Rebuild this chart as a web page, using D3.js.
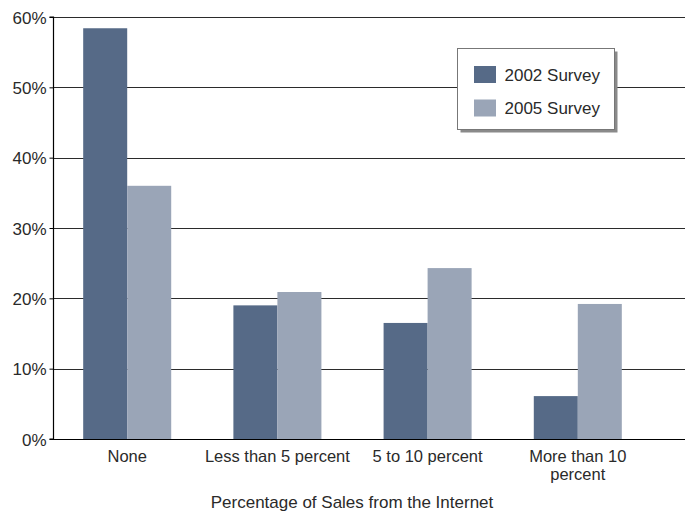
<!DOCTYPE html>
<html>
<head>
<meta charset="utf-8">
<script src="https://cdn.jsdelivr.net/npm/d3@7/dist/d3.min.js"></script>
<style>
  html, body { margin: 0; padding: 0; background: #fff; }
  svg { display: block; }
  text { font-family: "Liberation Sans", Arial, Helvetica, sans-serif; fill: #2a2a2a; }
</style>
</head>
<body>
<svg id="chart" width="685" height="513"></svg>
<script>
// Share of firms by percentage of sales coming from the Internet
const categories = ["None", "Less than 5 percent", "5 to 10 percent", "More than 10 percent"];
const categoryLines = [["None"], ["Less than 5 percent"], ["5 to 10 percent"], ["More than 10", "percent"]];
const seriesNames = ["2002 Survey", "2005 Survey"];
const survey2002 = [58.4, 19.0, 16.5, 6.1];
const survey2005 = [36.0, 20.9, 24.3, 19.2];
const yTicks = [0, 10, 20, 30, 40, 50, 60];

const colors = ["#566a87", "#9aa5b7"];
const svg = d3.select("#chart");

const W = 685;
const plotLeft = 53;
const y = d3.scaleLinear().domain([0, 60]).range([439, 17]);

const pad = 0.414;
const x0 = d3.scaleBand().domain(categories).range([52.1, 652.9]).paddingInner(pad).paddingOuter(pad / 2);
const x1 = d3.scaleBand().domain(seriesNames).range([0, x0.bandwidth()]);

const rows = categories.map((c, i) => ({ cat: c, vals: [survey2002[i], survey2005[i]] }));

// horizontal gridlines
svg.append("g").selectAll("line").data(yTicks.filter(t => t > 0)).join("line")
  .attr("x1", plotLeft).attr("x2", W)
  .attr("y1", d => Math.round(y(d)) + 0.5).attr("y2", d => Math.round(y(d)) + 0.5)
  .attr("stroke", "#2b2b2b").attr("stroke-width", 1.1);

// bars
svg.append("g").selectAll("g").data(rows).join("g")
  .attr("transform", d => `translate(${x0(d.cat)},0)`)
  .selectAll("rect").data(d => d.vals.map((v, k) => ({ k, v }))).join("rect")
  .attr("x", d => x1(seriesNames[d.k]))
  .attr("width", x1.bandwidth())
  .attr("y", d => y(d.v))
  .attr("height", d => y(0) - y(d.v))
  .attr("fill", d => colors[d.k]);

// baseline
svg.append("line").attr("x1", plotLeft).attr("x2", W)
  .attr("y1", Math.round(y(0)) + 0.5).attr("y2", Math.round(y(0)) + 0.5)
  .attr("stroke", "#000").attr("stroke-width", 1.2);

// y axis
const yAxis = d3.axisLeft(y).tickValues(yTicks).tickFormat(d => d + "%").tickSize(4).tickPadding(3);
const gy = svg.append("g").attr("transform", `translate(${plotLeft + 0.5},0)`).call(yAxis);
gy.select(".domain").attr("stroke", "#000").attr("stroke-width", 1.2).attr("d", `M-4,${y(60)}H0V${y(0)}H-4`);
gy.selectAll(".tick line").attr("stroke", "#000");
gy.selectAll(".tick text").style("font-size", "17px").style("font-family", null).attr("fill", "#2a2a2a").attr("dy", "0.36em");

// category labels
const xl = svg.append("g");
categories.forEach((c, i) => {
  const cx = x0(c) + x0.bandwidth() / 2;
  categoryLines[i].forEach((ln, j) => {
    xl.append("text").attr("text-anchor", "middle").attr("x", cx).attr("y", 462 + j * 17.5)
      .style("font-size", "16.5px").text(ln);
  });
});

// x axis title
svg.append("text").attr("x", 352).attr("y", 508).attr("text-anchor", "middle")
  .style("font-size", "17px").text("Percentage of Sales from the Internet");

// legend
const lg = svg.append("g").attr("transform", "translate(457.5,48.5)");
lg.append("rect").attr("x", 3).attr("y", 3).attr("width", 157).attr("height", 81).attr("fill", "#8a8a8a");
lg.append("rect").attr("width", 157).attr("height", 81).attr("fill", "#fff").attr("stroke", "#777").attr("stroke-width", 1);
seriesNames.forEach((s, k) => {
  lg.append("rect").attr("x", 16.5).attr("y", 17.5 + k * 33.5).attr("width", 22).attr("height", 17).attr("fill", colors[k]);
  lg.append("text").attr("x", 47).attr("y", 32 + k * 33.5).style("font-size", "17px").text(s);
});
</script>
</body>
</html>
